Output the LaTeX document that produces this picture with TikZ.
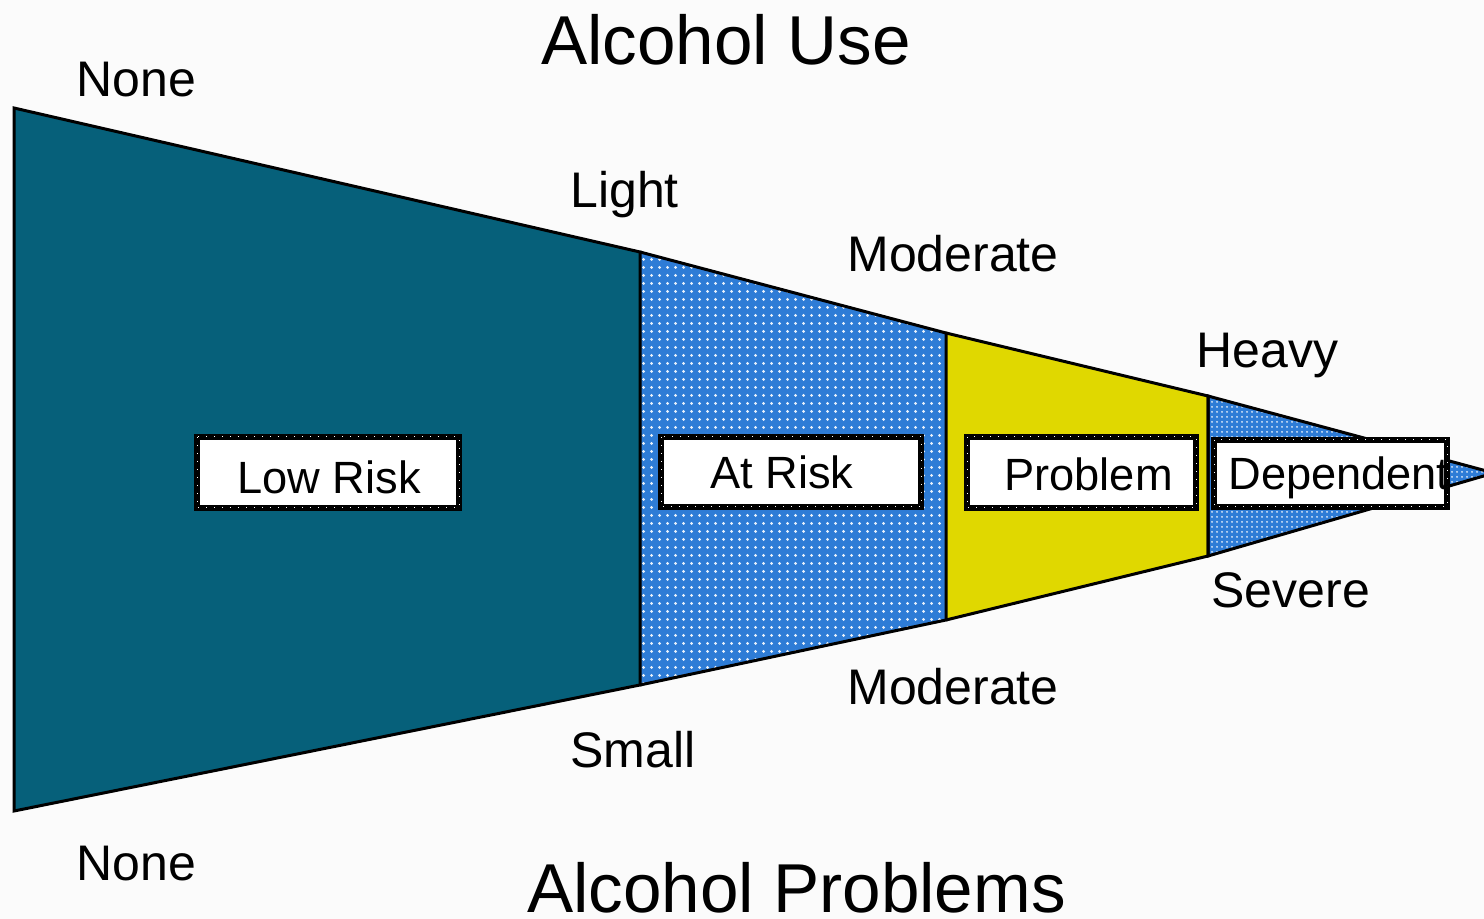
\documentclass[tikz,border=0pt]{standalone}
\usepackage{fontspec}
\setmainfont{Liberation Sans}
\usetikzlibrary{patterns}
\pgfdeclarepatternformonly{bigdots}{\pgfpointorigin}{\pgfpoint{4pt}{4pt}}{\pgfpoint{4pt}{4pt}}{%
  \pgfpathcircle{\pgfpoint{2pt}{2pt}}{0.9pt}\pgfusepath{fill}}
\pgfdeclarepatternformonly{smalldots}{\pgfpointorigin}{\pgfpoint{2.5pt}{2.5pt}}{\pgfpoint{2.5pt}{2.5pt}}{%
  \pgfpathcircle{\pgfpoint{1.25pt}{1.25pt}}{0.6pt}\pgfusepath{fill}}
\definecolor{teal}{HTML}{06607A}
\definecolor{riskblue}{HTML}{2E7CD6}
\definecolor{probyellow}{HTML}{E0D800}
\definecolor{bg}{HTML}{FBFBFB}
\begin{document}
\begin{tikzpicture}[x=0.5pt,y=-0.5pt,
  seg/.style={draw=black,line width=1.5pt,line join=miter},
  lab/.style={anchor=base west,inner sep=0pt,font=\fontsize{25}{30}\selectfont},
  title/.style={anchor=base west,inner sep=0pt,font=\fontsize{34.6}{40}\selectfont},
  boxlab/.style={anchor=base west,inner sep=0pt,font=\fontsize{22.6}{27}\selectfont},
  riskbox/.style={draw=black,fill=white,line width=2.6pt,inner sep=0pt,
    postaction={draw=white,line width=0.5pt,dash pattern=on 0.5pt off 3.5pt}}]
\useasboundingbox (0,0) rectangle (1484,919);
\fill[bg] (0,0) rectangle (1484,919);
% funnel segments
\fill[teal] (14,108) -- (640,252) -- (640,685) -- (14,811) -- cycle;
\fill[riskblue] (640,252) -- (946,333) -- (946,620) -- (640,685) -- cycle;
\fill[pattern=bigdots,pattern color=white!90!riskblue] (640,252) -- (946,333) -- (946,620) -- (640,685) -- cycle;
\fill[probyellow] (946,333) -- (1208,396) -- (1208,556) -- (946,620) -- cycle;
\begin{scope}
\clip (0,0) rectangle (1484,919);
\fill[riskblue] (1208,396) -- (1494,473) -- (1208,556) -- cycle;
\fill[pattern=smalldots,pattern color=white!85!riskblue] (1208,396) -- (1494,473) -- (1208,556) -- cycle;
\draw[seg] (1208,396) -- (1494,473) -- (1208,556) -- cycle;
\end{scope}
\draw[seg] (14,108) -- (640,252) -- (640,685) -- (14,811) -- cycle;
\draw[seg] (640,252) -- (946,333) -- (946,620) -- (640,685);
\draw[seg] (946,333) -- (1208,396) -- (1208,556) -- (946,620);
% boxes
\draw[riskbox] (197,437) rectangle (459,508);
\draw[riskbox] (661,437) rectangle (921,507);
\draw[riskbox] (967,437) rectangle (1196,508);
\draw[riskbox] (1214,440) rectangle (1447,507);
\node[boxlab] (lowrisk) at (237,494) {Low Risk};
\node[boxlab] (atrisk) at (710,489) {At Risk};
\node[boxlab] (problem) at (1004,491) {Problem};
\node[boxlab] (dependent) at (1228,490) {Dependent};
% labels
\node[title] (use) at (541,65) {Alcohol Use};
\node[title] (problems) at (527,912) {Alcohol Problems};
\node[lab] (nonetop) at (76,97) {None};
\node[lab] (light) at (570,208) {Light};
\node[lab] (modtop) at (847,272) {Moderate};
\node[lab] (heavy) at (1196,368) {Heavy};
\node[lab] (severe) at (1211,607) {Severe};
\node[lab] (modbot) at (847,704) {Moderate};
\node[lab] (small) at (570,767) {Small};
\node[lab] (nonebot) at (76,880) {None};
\end{tikzpicture}
\end{document}
